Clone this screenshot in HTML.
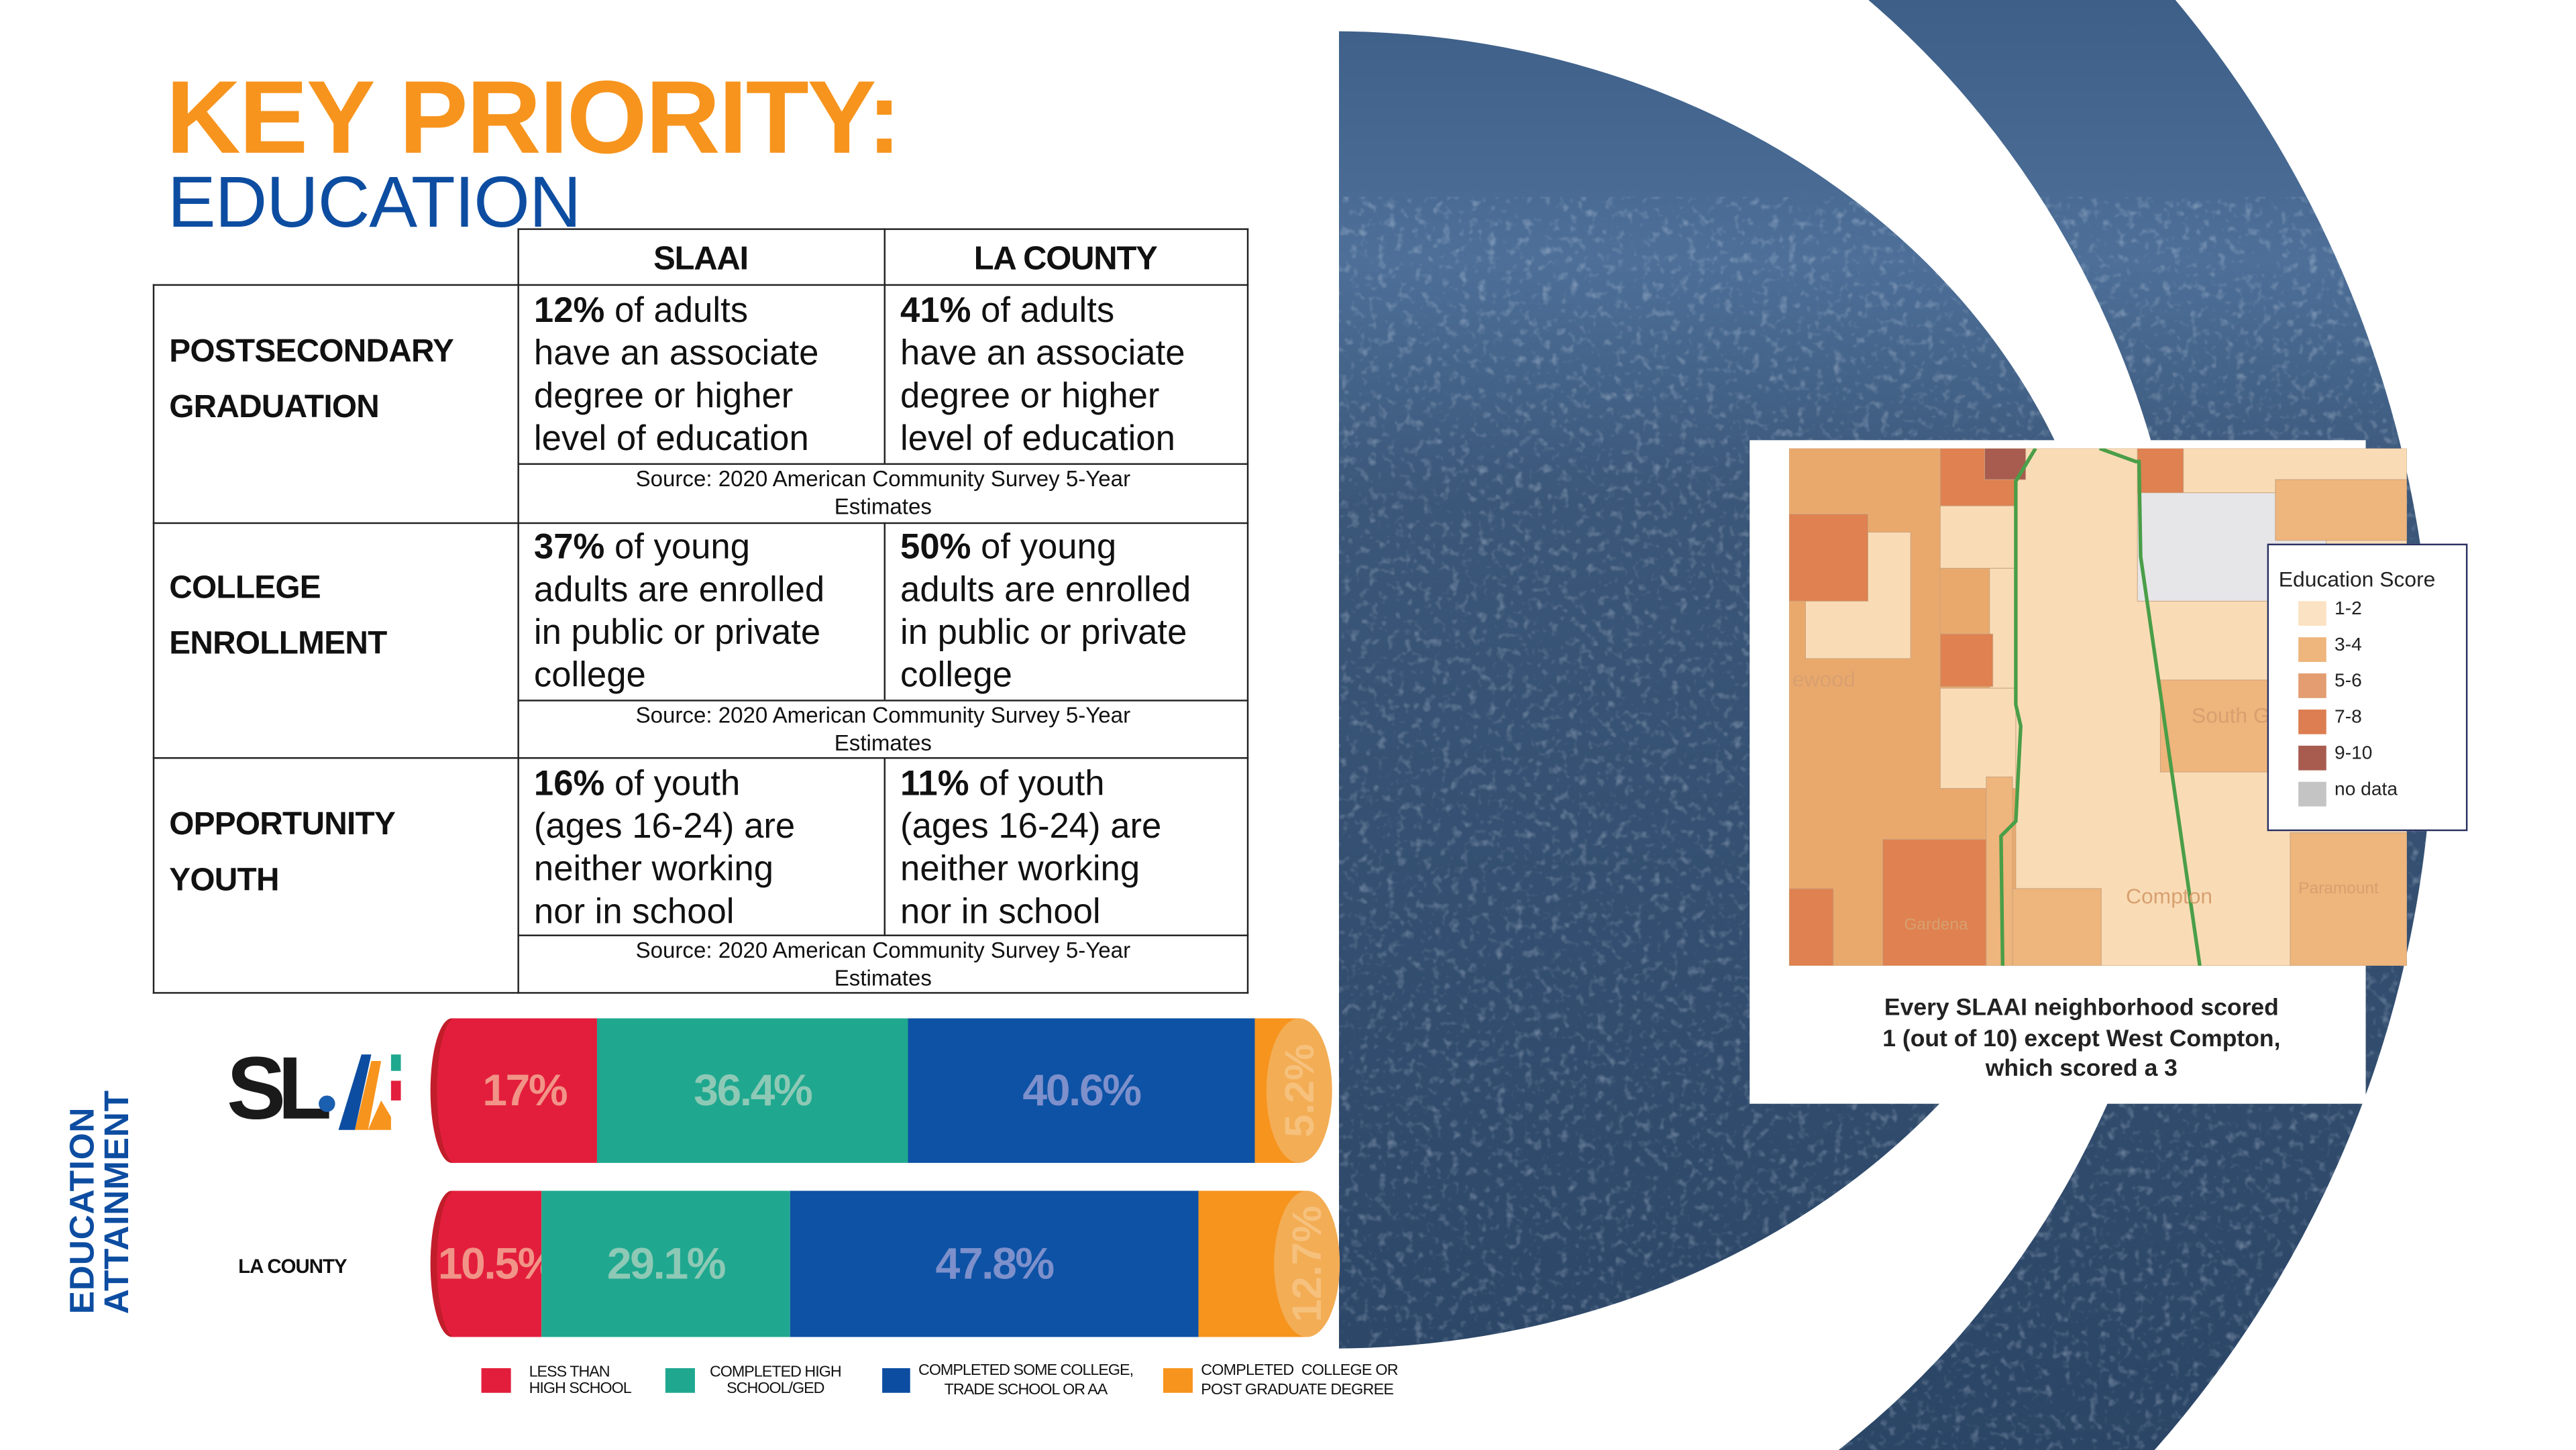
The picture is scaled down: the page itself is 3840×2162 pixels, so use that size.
<!DOCTYPE html>
<html><head><meta charset="utf-8">
<style>
html,body{margin:0;padding:0;background:#fff;}
body{width:3840px;height:2161px;overflow:hidden;position:relative;}
#stage{position:absolute;left:0;top:0;width:1568px;height:882.4px;transform:scale(2.449);transform-origin:0 0;font-family:"Liberation Sans",sans-serif;}
.abs{position:absolute;}
.t{position:absolute;white-space:nowrap;color:#111;}
.body{font-size:21.5px;line-height:26px;color:#111;}
.body b{font-weight:700;}
.lab{font-size:19.5px;font-weight:900;line-height:34px;color:#111;letter-spacing:-0.3px;}
.src{font-size:13.5px;line-height:17px;text-align:center;color:#111;}
.ln{position:absolute;background:#222;}
</style></head>
<body>
<div id="stage">

<svg class="abs" style="left:0;top:0" width="1568" height="883">
  <defs>
    <clipPath id="cr"><rect x="815" y="0" width="753" height="883"/></clipPath>
    <linearGradient id="sky" x1="0" y1="0" x2="0" y2="1">
      <stop offset="0" stop-color="#3d5f88"/>
      <stop offset="0.18" stop-color="#4d6f98"/>
      <stop offset="0.35" stop-color="#3a5678"/>
      <stop offset="1" stop-color="#2b4566"/>
    </linearGradient>
    <filter id="noise" x="0" y="0" width="100%" height="100%">
      <feTurbulence type="fractalNoise" baseFrequency="0.18" numOctaves="2" seed="4"/>
      <feColorMatrix type="matrix" values="0 0 0 0 0.75  0 0 0 0 0.82  0 0 0 0 0.92  0 0 0 1.4 -0.75"/>
    </filter>
    <mask id="ring">
      <rect x="0" y="0" width="1568" height="883" fill="#000"/>
      <ellipse cx="811" cy="434" rx="670" ry="675" fill="#fff"/>
      <ellipse cx="811" cy="434" rx="522" ry="556" fill="#000"/>
      <ellipse cx="811" cy="420" rx="475" ry="401" fill="#fff"/>
    </mask>
  </defs>
  <g clip-path="url(#cr)" mask="url(#ring)">
    <rect x="815" y="0" width="753" height="883" fill="url(#sky)"/>
    <rect x="815" y="120" width="753" height="763" filter="url(#noise)" opacity="0.6"/>
  </g>
</svg>

<div class="t" style="left:101px;top:36px;font-size:63px;font-weight:900;color:#f7941d;letter-spacing:-1px;">KEY PRIORITY:</div>
<div class="t" style="left:102px;top:99px;font-size:44px;color:#0d4da1;letter-spacing:-0.5px;">EDUCATION</div>

<div class="abs" style="left:0;top:0">
  <div class="ln" style="left:315px;top:139px;width:445px;height:1.3px"></div>
  <div class="ln" style="left:93px;top:173px;width:667px;height:1.3px"></div>
  <div class="ln" style="left:93px;top:318px;width:667px;height:1.3px"></div>
  <div class="ln" style="left:93px;top:461px;width:667px;height:1.3px"></div>
  <div class="ln" style="left:93px;top:604px;width:667px;height:1.3px"></div>
  <div class="ln" style="left:315px;top:282px;width:445px;height:1.3px"></div>
  <div class="ln" style="left:315px;top:426px;width:445px;height:1.3px"></div>
  <div class="ln" style="left:315px;top:569px;width:445px;height:1.3px"></div>
  <div class="ln" style="left:93px;top:173px;width:1.3px;height:432px"></div>
  <div class="ln" style="left:315px;top:139px;width:1.3px;height:466px"></div>
  <div class="ln" style="left:759px;top:139px;width:1.3px;height:466px"></div>
  <div class="ln" style="left:538px;top:139px;width:1.3px;height:143px"></div>
  <div class="ln" style="left:538px;top:318px;width:1.3px;height:108px"></div>
  <div class="ln" style="left:538px;top:461px;width:1.3px;height:108px"></div>

  <div class="t" style="left:315px;width:223px;top:147px;text-align:center;font-size:20px;font-weight:900;letter-spacing:-0.5px">SLAAI</div>
  <div class="t" style="left:538px;width:221px;top:147px;text-align:center;font-size:20px;font-weight:900;letter-spacing:-0.5px">LA COUNTY</div>

  <div class="t lab" style="left:103px;top:197px">POSTSECONDARY<br>GRADUATION</div>
  <div class="t lab" style="left:103px;top:341px">COLLEGE<br>ENROLLMENT</div>
  <div class="t lab" style="left:103px;top:485px">OPPORTUNITY<br>YOUTH</div>

  <div class="t body" style="left:325px;top:176px"><b>12%</b> of adults<br>have an associate<br>degree or higher<br>level of education</div>
  <div class="t body" style="left:548px;top:176px"><b>41%</b> of adults<br>have an associate<br>degree or higher<br>level of education</div>
  <div class="t body" style="left:325px;top:320px"><b>37%</b> of young<br>adults are enrolled<br>in public or private<br>college</div>
  <div class="t body" style="left:548px;top:320px"><b>50%</b> of young<br>adults are enrolled<br>in public or private<br>college</div>
  <div class="t body" style="left:325px;top:464px"><b>16%</b> of youth<br>(ages 16-24) are<br>neither working<br>nor in school</div>
  <div class="t body" style="left:548px;top:464px"><b>11%</b> of youth<br>(ages 16-24) are<br>neither working<br>nor in school</div>

  <div class="t src" style="left:315px;width:445px;top:283px">Source: 2020 American Community Survey 5-Year<br>Estimates</div>
  <div class="t src" style="left:315px;width:445px;top:427px">Source: 2020 American Community Survey 5-Year<br>Estimates</div>
  <div class="t src" style="left:315px;width:445px;top:570px">Source: 2020 American Community Survey 5-Year<br>Estimates</div>
</div>

<div class="t" style="left:40px;top:800px;transform:rotate(-90deg);transform-origin:0 0;font-size:21px;font-weight:900;color:#0d4da1;line-height:21px;letter-spacing:0.3px">EDUCATION<br>ATTAINMENT</div>

<div class="abs" style="left:138px;top:640px;width:112px;height:48px">
  <div class="t" style="left:0;top:-8px;font-size:54px;font-weight:900;color:#1a1a1a;letter-spacing:-5px">SL</div>
  <svg class="abs" style="left:48px;top:0" width="64" height="48">
    <polygon points="20,48 34,2 40,2 30,48" fill="#0d4da1"/>
    <polygon points="30,48 40,6 46,6 38,48" fill="#f7941d"/>
    <polygon points="38,48 46,30 52,40 52,48" fill="#f7941d"/>
    <rect x="52" y="2" width="6" height="10" fill="#1fa88f"/>
    <rect x="52" y="18" width="6" height="12" fill="#e31e3c"/>
    <circle cx="13" cy="32" r="5" fill="#1b5fb0"/>
  </svg>
</div>
<div class="t" style="left:145px;top:764px;font-size:12px;font-weight:900;letter-spacing:-0.4px">LA COUNTY</div>

<svg id="bars" class="abs" style="left:0;top:0" width="1568" height="883"></svg>

<div class="abs" style="left:0;top:0">
  <div class="abs" style="left:293px;top:833px;width:18px;height:15px;background:#e31e3c"></div>
  <div class="t" style="left:322px;top:831px;font-size:9.5px;line-height:10px;letter-spacing:-0.4px">LESS THAN<br>HIGH SCHOOL</div>
  <div class="abs" style="left:405px;top:833px;width:18px;height:15px;background:#1fa88f"></div>
  <div class="t" style="left:432px;top:831px;font-size:9.5px;line-height:10px;letter-spacing:-0.4px;text-align:center">COMPLETED HIGH<br>SCHOOL/GED</div>
  <div class="abs" style="left:537px;top:833px;width:17px;height:15px;background:#0d4da1"></div>
  <div class="t" style="left:559px;top:829px;font-size:9.5px;line-height:12px;letter-spacing:-0.4px;text-align:center">COMPLETED SOME COLLEGE,<br>TRADE SCHOOL OR AA</div>
  <div class="abs" style="left:708px;top:833px;width:18px;height:15px;background:#f7941d"></div>
  <div class="t" style="left:731px;top:829px;font-size:9.5px;line-height:12px;letter-spacing:-0.3px">COMPLETED &nbsp;COLLEGE OR<br>POST GRADUATE DEGREE</div>
</div>

<div class="abs" style="left:1065px;top:268px;width:375px;height:404px;background:#fff"></div>
<svg id="map" class="abs" style="left:1089px;top:273px" width="376" height="315"></svg>
<div class="abs" style="left:1380px;top:331px;width:120px;height:173px;background:#fff;border:1.3px solid #2a3160">
  <div class="t" style="left:6px;top:13px;font-size:13px;color:#222">Education Score</div>
  <div id="mapleg"></div>
</div>
<div class="t" style="left:1065px;width:404px;top:605px;text-align:center;font-size:14.5px;line-height:18.5px;font-weight:700;color:#222;white-space:normal">Every SLAAI neighborhood scored<br>1 (out of 10) except West Compton,<br>which scored a 3</div>

<script>
var groups = ["SLAAI", "LA COUNTY"];
var lessThanHS = [17, 10.5];
var highSchool = [36.4, 29.1];
var someCollege = [40.6, 47.8];
var collegeDegree = [5.2, 12.7];
var valueLabels = [["17%","36.4%","40.6%","5.2%"],["10.5%","29.1%","47.8%","12.7%"]];

var NS = "http://www.w3.org/2000/svg";
var svg = document.getElementById("bars");
var x0 = 275, pxPerPct = 5.2;
function xs(v){ return x0 + v * pxPerPct; }
var rowTop = [620, 725], rowH = [88, 89];
var fills = ["#e31e3c","#1fa88f","#0d52a5","#f7941d"];
var textFills = ["#f19487","#8ec9b6","#7d90cb","#f6c17c"];
var names = ["less-than-hs","high-school","some-college","college-degree"];
function mk(tag, attrs){ var e=document.createElementNS(NS,tag); for(var k in attrs) e.setAttribute(k, attrs[k]); svg.appendChild(e); return e; }

for (var g = 0; g < groups.length; g++) {
  var vals = [lessThanHS[g], highSchool[g], someCollege[g], collegeDegree[g]];
  var y = rowTop[g], h = rowH[g], cy = y + h/2;
  var cap = mk("ellipse", {cx: xs(0), cy: cy, rx: 13, ry: h/2, fill: "#c11d2a"});
  
  
  var acc = 0;
  for (var s = 0; s < 4; s++) {
    var xa = xs(acc), xb = xs(acc + vals[s]);
    var r = mk("rect", {x: xa, y: y, width: xb - xa, height: h, fill: fills[s]});
    
    
    if (s === 0) { mk("ellipse",{cx: xa+2, cy: cy, rx: 11, ry: h/2, fill: fills[0]}); }
    if (s === 3) {
      var endCap = mk("ellipse", {cx: xb, cy: cy, rx: 20, ry: h/2, fill: "#f3ad55"});
      
      
    }
    var tx = (xa + xb) / 2, t;
    if (s === 3) {
      t = mk("text", {x: xb, y: cy, fill: textFills[s], "font-size": 25, "font-weight": 900,
        "font-family": "Liberation Sans, sans-serif", "text-anchor": "middle", "dominant-baseline": "central",
        transform: "rotate(-90 " + xb + " " + cy + ")"});
    } else {
      t = mk("text", {x: tx, y: cy, fill: textFills[s], "font-size": 27, "font-weight": 900,
        "font-family": "Liberation Sans, sans-serif", "text-anchor": "middle", "dominant-baseline": "central", "letter-spacing": "-1"});
    }
    t.textContent = valueLabels[g][s];
    
    
    acc += vals[s];
  }
}

var scoreBins = ["1-2","3-4","5-6","7-8","9-10","no data"];
var binColors = ["#fbe2c2","#eeb57c","#e39d70","#dc7e52","#a85b4f","#c4c4c4"];
var m = document.getElementById("map");
function mr(x,y,w,h,c){ var e=document.createElementNS(NS,"rect"); e.setAttribute("x",x); e.setAttribute("y",y); e.setAttribute("width",w); e.setAttribute("height",h); e.setAttribute("fill",c); e.setAttribute("stroke","#c9a27e"); e.setAttribute("stroke-width","0.4"); m.appendChild(e); return e; }
mr(0,0,376,315,"#f9dcb6");
mr(0,0,138,315,"#eaa96c");
mr(92,0,46,35,"#df8150");
mr(119,0,25,19,"#a85b4f");
mr(92,35,46,38,"#f9dcb6");
mr(10,51,64,77,"#f9dcb6");
mr(0,40,48,53,"#df8150");
mr(92,73,30,40,"#eaa96c");
mr(122,73,16,73,"#f9dcb6");
mr(92,113,32,32,"#df8150");
mr(92,146,46,61,"#f9dcb6");
mr(57,238,63,77,"#df8150");
mr(0,268,27,47,"#df8150");
mr(212,0,28,27,"#df8150");
mr(212,27,115,66,"#e6e6e8");
mr(296,19,80,37,"#eeb57c");
mr(226,141,150,56,"#eeb57c");
mr(305,234,71,81,"#eeb57c");
mr(136,268,54,47,"#eeb57c");
mr(120,200,16,115,"#eeb57c");
var gl = document.createElementNS(NS,"polyline");
gl.setAttribute("points","150,0 138,20 138,156 141,169 138,227 129,236 130,315");
gl.setAttribute("fill","none"); gl.setAttribute("stroke","#4a9e48"); gl.setAttribute("stroke-width","2.2");
m.appendChild(gl);
var gr = document.createElementNS(NS,"polyline");
gr.setAttribute("points","189,0 211,8 213,8 214,66 250,315");
gr.setAttribute("fill","none"); gr.setAttribute("stroke","#4a9e48"); gr.setAttribute("stroke-width","2.2");
m.appendChild(gr);
var pl = [["ewood",2,145],["South G",245,167],["Compton",205,277],["Gardena",70,293],["Paramount",310,271]];
pl.forEach(function(p){ var t=document.createElementNS(NS,"text"); t.setAttribute("x",p[1]); t.setAttribute("y",p[2]); t.setAttribute("fill","#d8a070"); t.setAttribute("font-size", p[0]==="Paramount"||p[0]==="Gardena"?10:13); t.setAttribute("font-family","Liberation Sans, sans-serif"); t.textContent=p[0]; m.appendChild(t); });

var lg = document.getElementById("mapleg");
for (var i = 0; i < scoreBins.length; i++) {
  var sw = document.createElement("div");
  sw.className = "abs";
  sw.style.cssText = "left:18px;top:" + (34 + i*22) + "px;width:17px;height:15px;background:" + binColors[i];
  
  
  lg.appendChild(sw);
  var lt = document.createElement("div");
  lt.className = "t";
  lt.style.cssText = "left:40px;top:" + (33 + i*22) + "px;font-size:11.5px;color:#222";
  lt.textContent = scoreBins[i];
  
  
  lg.appendChild(lt);
}
</script>
</div>
</body></html>
